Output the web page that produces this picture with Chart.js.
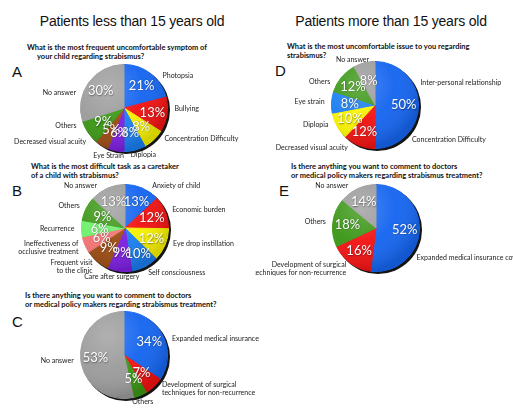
<!DOCTYPE html>
<html>
<head>
<meta charset="utf-8">
<script src="https://cdn.jsdelivr.net/npm/chart.js@4.4.1/dist/chart.umd.min.js"></script>
<style>
  html, body { margin: 0; padding: 0; background: #fff; }
  body { width: 513px; height: 408px; position: relative; overflow: hidden; font-family: 'Liberation Sans', Arial, sans-serif; color: #111; }
  .title { position: absolute; top: 14px; width: 260px; text-align: center; font-size: 14px; line-height: 14px; letter-spacing: -0.2px; white-space: nowrap; }
  .letter { position: absolute; font-size: 15px; line-height: 15px; }
  .q { position: absolute; font-family: Lato, sans-serif; font-weight: 700; font-size: 7.5px; line-height: 9px; white-space: nowrap; }
  canvas { position: absolute; }
</style>
</head>
<body>
<div class="title" style="left:2px">Patients less than 15 years old</div>
<div class="title" style="left:261px">Patients more than 15 years old</div>

<div class="letter" style="left:12px;top:64px">A</div>
<div class="letter" style="left:12px;top:183px">B</div>
<div class="letter" style="left:12px;top:314px">C</div>
<div class="letter" style="left:275px;top:63px">D</div>
<div class="letter" style="left:279px;top:183px">E</div>

<div class="q" style="left:27px;top:43px">What is the most frequent uncomfortable symptom of</div>
<div class="q" style="left:37px;top:52px">your child regarding strabismus?</div>
<div class="q" style="left:31px;top:162px">What is the most difficult task as a caretaker<br>of a child with strabismus?</div>
<div class="q" style="left:25px;top:291px">Is there anything you want to comment to doctors<br>or medical policy makers regarding strabismus treatment?</div>
<div class="q" style="left:287px;top:42px">What is the most uncomfortable issue to you regarding<br>strabismus?</div>
<div class="q" style="left:291px;top:162px">Is there anything you want to comment to doctors<br>or medical policy makers regarding strabismus treatment?</div>

<canvas id="pieA" width="259" height="112" style="left:0;top:55px"></canvas>
<canvas id="pieB" width="259" height="110" style="left:0;top:176px"></canvas>
<canvas id="pieC" width="260" height="105" style="left:0;top:303px"></canvas>
<canvas id="pieD" width="258" height="110" style="left:255px;top:50px"></canvas>
<canvas id="pieE" width="258" height="110" style="left:255px;top:173px"></canvas>

<script>
// data
const aLabels = ['Photopsia', 'Bullying', 'Concentration Difficulty', 'Diplopia', 'Eye Strain', 'Decreased visual acuity', 'Others', 'No answer'];
const aValues = [21, 13, 8, 8, 6, 5, 9, 30];

const bLabels = ['Anxiety of child', 'Economic burden', 'Eye drop instillation', 'Self consciousness', 'Care after surgery',
  'Frequent visit\nto the clinic', 'Ineffectiveness of\nocclusive treatment', 'Recurrence', 'Others', 'No answer'];
const bValues = [13, 12, 12, 10, 9, 9, 6, 6, 9, 13];

const cLabels = ['Expanded medical insurance coverage', 'Development of surgical\ntechniques for non-recurrence', 'Others', 'No answer'];
const cValues = [34, 7, 5, 53];

const dLabels = ['Inter-personal relationship', 'Concentration Difficulty', 'Decreased visual acuity', 'Diplopia', 'Eye strain', 'Others', 'No answer'];
const dValues = [50, 0, 12, 10, 8, 12, 8];

const eLabels = ['Expanded medical insurance coverage', 'Development of surgical\ntechniques for non-recurrence', 'Others', 'No answer'];
const eValues = [52, 16, 18, 14];

// colours
const BLUE = '#1565f0', BLUE2 = '#1a7ef0', RED = '#f21212', YELLOW = '#f7f200', PURPLE = '#7d1fe0',
      BROWN = '#9a4a12', GREEN = '#3a9615', GRAY = '#9b9b9b', SALMON = '#f27373', LIGHTGREEN = '#6cf06a';

const aColors = [BLUE, RED, YELLOW, BLUE2, PURPLE, BROWN, GREEN, GRAY];
const bColors = [BLUE, RED, YELLOW, BLUE2, PURPLE, BROWN, SALMON, LIGHTGREEN, GREEN, GRAY];
const cColors = [BLUE, RED, GREEN, GRAY];
const dColors = [BLUE, RED, RED, YELLOW, BLUE2, GREEN, GRAY];
const eColors = [BLUE, RED, GREEN, GRAY];

// label angle nudges in degrees (clockwise), layout only
const aNudge = [12, -8, -10, -8, 7, 18, 14, -18];
const bNudge = [9, 0, -5, 0, 8, 0, 0, 0, 0, -10];
const cNudge = [10, -5, 0, 0];
const dNudge = [-26, -47, 11, 6, 0, -12, -12];
const eNudge = [33, 0, 0, -8];

// shadow rim, gloss and text on the pie
const pieDressing = {
  id: 'pieDressing',
  beforeDatasetsDraw(chart) {
    const arc = chart.getDatasetMeta(0).data[0];
    const ctx = chart.ctx;
    ctx.save();
    ctx.beginPath();
    ctx.arc(arc.x + 2, arc.y + 2, arc.outerRadius + 0.5, 0, Math.PI * 2);
    ctx.fillStyle = '#141414';
    ctx.fill();
    ctx.restore();
  },
  afterDatasetsDraw(chart, args, opts) {
    const arcs = chart.getDatasetMeta(0).data;
    const values = chart.data.datasets[0].data;
    const labels = chart.data.labels;
    const ctx = chart.ctx;
    const cx = arcs[0].x, cy = arcs[0].y, r = arcs[0].outerRadius;

    // gloss
    ctx.save();
    ctx.beginPath();
    ctx.arc(cx, cy, r, 0, Math.PI * 2);
    ctx.clip();
    const g = ctx.createRadialGradient(cx - r * 0.35, cy - r * 0.45, 0, cx - r * 0.35, cy - r * 0.45, r * 1.45);
    g.addColorStop(0, 'rgba(255,255,255,0.22)');
    g.addColorStop(0.55, 'rgba(255,255,255,0.04)');
    g.addColorStop(1, 'rgba(0,0,0,0.14)');
    ctx.fillStyle = g;
    ctx.fillRect(cx - r, cy - r, r * 2, r * 2);
    ctx.restore();

    // percentages
    ctx.save();
    ctx.font = '13px Lato, sans-serif';
    ctx.textAlign = 'center';
    ctx.textBaseline = 'middle';
    ctx.fillStyle = '#fff';
    ctx.shadowColor = 'rgba(0,0,0,0.45)';
    ctx.shadowBlur = 1.5;
    ctx.shadowOffsetX = 0.5;
    ctx.shadowOffsetY = 0.5;
    arcs.forEach((a, i) => {
      if (!values[i]) return;
      const mid = (a.startAngle + a.endAngle) / 2;
      const rr = r * (values[i] < 10 ? 0.58 : 0.66);
      ctx.fillText(values[i] + '%', cx + rr * Math.cos(mid), cy + rr * Math.sin(mid));
    });
    ctx.restore();

    // category labels
    ctx.save();
    ctx.font = '7px Lato, sans-serif';
    ctx.fillStyle = '#222';
    ctx.textBaseline = 'middle';
    const R = r + 7;
    arcs.forEach((a, i) => {
      const mid = (a.startAngle + a.endAngle) / 2 + (opts.nudge[i] || 0) * Math.PI / 180;
      const px = cx + R * Math.cos(mid), py = cy + R * Math.sin(mid);
      const c = Math.cos(mid);
      ctx.textAlign = c > 0.45 ? 'left' : (c < -0.45 ? 'right' : 'center');
      const lines = labels[i].split('\n');
      const lh = 8;
      lines.forEach((t, k) => {
        ctx.fillText(t, px, py + (k - (lines.length - 1) / 2) * lh);
      });
    });
    ctx.restore();
  }
};

function makePie(id, labels, values, colors, nudge, cx, cy, r) {
  const canvas = document.getElementById(id);
  const w = canvas.width, h = canvas.height;
  return new Chart(canvas, {
    type: 'pie',
    data: {
      labels: labels,
      datasets: [{
        data: values,
        backgroundColor: colors,
        borderColor: colors,
        borderWidth: 1,
        hoverOffset: 0
      }]
    },
    options: {
      responsive: false,
      animation: false,
      events: [],
      layout: { padding: { left: cx - r, right: w - cx - r, top: cy - r, bottom: h - cy - r } },
      plugins: {
        legend: { display: false },
        tooltip: { enabled: false },
        pieDressing: { nudge: nudge }
      }
    },
    plugins: [pieDressing]
  });
}

makePie('pieA', aLabels, aValues, aColors, aNudge, 124, 53, 44);
makePie('pieB', bLabels, bValues, bColors, bNudge, 125, 52, 44);
makePie('pieC', cLabels, cValues, cColors, cNudge, 124, 52, 44);
makePie('pieD', dLabels, dValues, dColors, dNudge, 120, 55, 44);
makePie('pieE', eLabels, eValues, eColors, eNudge, 121, 55, 44);
</script>
</body>
</html>
